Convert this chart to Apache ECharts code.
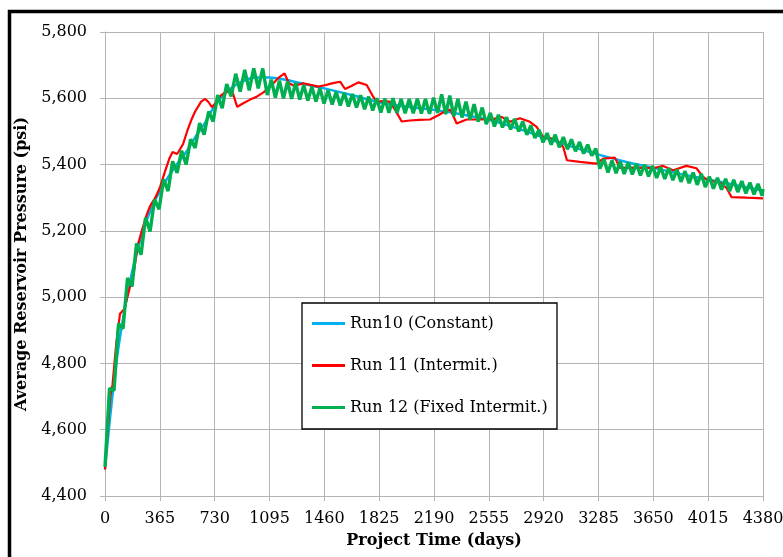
<!DOCTYPE html>
<html>
<head>
<meta charset="utf-8">
<script src="https://cdn.jsdelivr.net/npm/echarts@6/dist/echarts.min.js"></script>
<style>html,body{margin:0;padding:0;background:#fff;}#c{width:783px;height:557px;}</style>
</head>
<body>
<div id="c"></div>
<script>
const seriesNames = ['Run10 (Constant)', 'Run 11 (Intermit.)', 'Run 12 (Fixed Intermit.)'];

const run10Days = [0,30,60,90,120,150,180,210,240,270,300,330,365,420,480,540,600,660,730,800,870,940,1000,1095,1200,1300,1460,1640,1825,2000,2190,2370,2555,2740,2920,3100,3285,3470,3650,3830,4015,4200,4380];
const run10Psi  = [4480,4620,4745,4850,4935,5010,5075,5130,5180,5222,5258,5290,5318,5362,5402,5438,5482,5522,5577,5615,5640,5656,5663,5663,5656,5646,5630,5610,5588,5575,5565,5552,5535,5510,5482,5455,5430,5408,5390,5372,5355,5338,5322];

const run11Days = [0,15,35,50,75,100,130,160,190,220,245,275,300,335,365,400,430,450,480,520,550,575,600,640,667,690,712,735,770,800,845,880,920,966,1010,1055,1100,1150,1195,1225,1260,1320,1420,1470,1510,1565,1598,1640,1687,1742,1786,1809,1860,1897,1935,1975,2030,2090,2163,2219,2274,2300,2341,2407,2495,2584,2640,2695,2762,2828,2873,2917,2961,3006,3050,3075,3161,3272,3316,3394,3427,3538,3649,3715,3782,3870,3937,3981,4015,4092,4137,4170,4270,4380];
const run11Psi  = [4480,4580,4700,4735,4860,4950,4965,5020,5070,5160,5200,5245,5275,5300,5330,5380,5420,5438,5432,5462,5505,5535,5560,5590,5598,5588,5573,5585,5608,5618,5624,5574,5585,5596,5605,5618,5635,5660,5675,5645,5638,5645,5635,5640,5645,5650,5628,5637,5648,5640,5604,5589,5592,5589,5562,5530,5533,5535,5536,5549,5564,5565,5524,5536,5536,5537,5544,5529,5540,5529,5514,5483,5480,5475,5453,5413,5408,5403,5418,5421,5390,5391,5389,5396,5383,5396,5389,5363,5352,5346,5330,5302,5300,5298];

const run12Days = [0,30,60,90,120,150,180,210,240,270,300,330,360,390,420,450,480,510,540,570,600,630,660,690,720,750,780,810,840,870,900,930,960,990,1020,1050,
1080,1107,1134,1161,1188,1215,1242,1269,1296,1323,1350,1377,1404,1431,1458,1485,1512,1539,1566,1593,1620,1647,1674,1701,1728,1755,1782,1809,1836,1863,1890,1917,1944,1971,1998,2025,2052,2079,2106,2133,2160,2187,2214,2241,2268,2295,2322,2349,2376,2403,2430,2457,2484,2511,2538,2565,2592,2619,2646,2673,2700,2727,2754,2781,2808,2835,2862,2889,2916,2943,2970,2997,3024,3051,3078,3105,3132,3159,3186,3213,3240,3267,3294,3321,3348,3375,3402,3429,3456,3483,3510,3537,3564,3591,3618,3645,3672,3699,3726,3753,3780,3807,3834,3861,3888,3915,3942,3969,3996,4023,4050,4077,4104,4131,4158,4185,4212,4239,4266,4293,4320,4347,4374,4380];
const run12Psi  = [4488,4725,4718,4920,4905,5058,5032,5162,5128,5240,5198,5295,5265,5355,5320,5410,5375,5442,5400,5476,5450,5525,5490,5560,5530,5610,5570,5643,5606,5674,5620,5686,5624,5690,5630,5690,
5610,5656,5602,5653,5600,5650,5598,5647,5596,5640,5593,5635,5590,5630,5584,5624,5581,5620,5578,5617,5575,5613,5572,5609,5567,5605,5563,5600,5557,5599,5556,5600,5556,5598,5555,5598,5555,5599,5554,5598,5553,5602,5556,5612,5552,5608,5546,5598,5542,5590,5536,5582,5530,5572,5522,5556,5515,5550,5512,5543,5506,5538,5500,5530,5490,5518,5480,5505,5467,5495,5460,5490,5452,5483,5446,5476,5440,5468,5433,5460,5427,5448,5388,5416,5376,5412,5374,5409,5372,5406,5370,5403,5367,5400,5364,5396,5360,5392,5357,5389,5353,5385,5348,5380,5344,5376,5339,5372,5332,5364,5327,5360,5324,5357,5320,5354,5317,5350,5313,5346,5310,5342,5306,5326];

const xMin = 0, xMax = 4380, xStep = 365;
const yMin = 4400, yMax = 5800, yStep = 200;

function zip(a, b) { return a.map((d, i) => [d, b[i]]); }
function commas(v) { return String(v).replace(/\B(?=(\d{3})+(?!\d))/g, ','); }

const chart = echarts.init(document.getElementById('c'), null, {renderer: 'canvas'});
const serif = 'DejaVu Serif';
const gridColor = '#b4b4b4';
const colors = ['#00B0F0', '#FF0000', '#00B050'];

chart.setOption({
  animation: false,
  backgroundColor: '#fff',
  grid: {left: 105, right: 20, top: 32, bottom: 61, containLabel: false, outerBoundsMode: 'none'},
  xAxis: {
    type: 'value', min: xMin, max: xMax, interval: xStep,
    name: 'Project Time (days)', nameLocation: 'middle', nameGap: 37,
    nameTextStyle: {fontFamily: serif, fontWeight: 'bold', fontSize: 16, color: '#000'},
    axisLine: {lineStyle: {color: gridColor, width: 1}},
    axisTick: {show: true, length: 5, lineStyle: {color: gridColor}},
    axisLabel: {fontFamily: serif, fontSize: 16, color: '#000', margin: 15, formatter: v => String(v),
                showMinLabel: true, showMaxLabel: true, hideOverlap: false},
    splitLine: {show: true, lineStyle: {color: gridColor, width: 1}}
  },
  yAxis: {
    type: 'value', min: yMin, max: yMax, interval: yStep,
    name: 'Average Reservoir Pressure (psi)', nameLocation: 'middle', nameGap: 72,
    nameTextStyle: {fontFamily: serif, fontWeight: 'bold', fontSize: 16, color: '#000'},
    axisLine: {show: true, lineStyle: {color: gridColor, width: 1}},
    axisTick: {show: true, length: 5, lineStyle: {color: gridColor}},
    axisLabel: {fontFamily: serif, fontSize: 16, color: '#000', margin: 18, formatter: commas},
    splitLine: {show: true, lineStyle: {color: gridColor, width: 1}}
  },
  legend: {
    orient: 'vertical', left: 302, top: 303, padding: [12, 10, 12, 10],
    itemWidth: 33, itemHeight: 3, itemGap: 25, z: 5,
    textStyle: {fontFamily: serif, fontSize: 16, color: '#000', lineHeight: 17},
    data: seriesNames.map((n, i) => ({name: n, icon: 'rect', itemStyle: {color: colors[i]}}))
  },
  graphic: [
    {type: 'rect', z: 3, shape: {x: 302, y: 303, width: 255, height: 126},
     style: {fill: '#fff', stroke: '#000', lineWidth: 1.3}},
    {type: 'rect', z: 10, silent: true, shape: {x: 9.5, y: 11.5, width: 900, height: 700},
     style: {fill: 'none', stroke: '#000', lineWidth: 3.5}}
  ],
  series: [
    {name: seriesNames[0], type: 'line', data: zip(run10Days, run10Psi), symbol: 'none', smooth: 0.3,
     lineStyle: {color: colors[0], width: 2.5}, itemStyle: {color: colors[0]}, z: 2},
    {name: seriesNames[1], type: 'line', data: zip(run11Days, run11Psi), symbol: 'none',
     lineStyle: {color: colors[1], width: 2.2}, itemStyle: {color: colors[1]}, z: 3},
    {name: seriesNames[2], type: 'line', data: zip(run12Days, run12Psi), symbol: 'none',
     lineStyle: {color: colors[2], width: 3.4}, itemStyle: {color: colors[2]}, z: 4}
  ]
});
</script>
</body>
</html>
